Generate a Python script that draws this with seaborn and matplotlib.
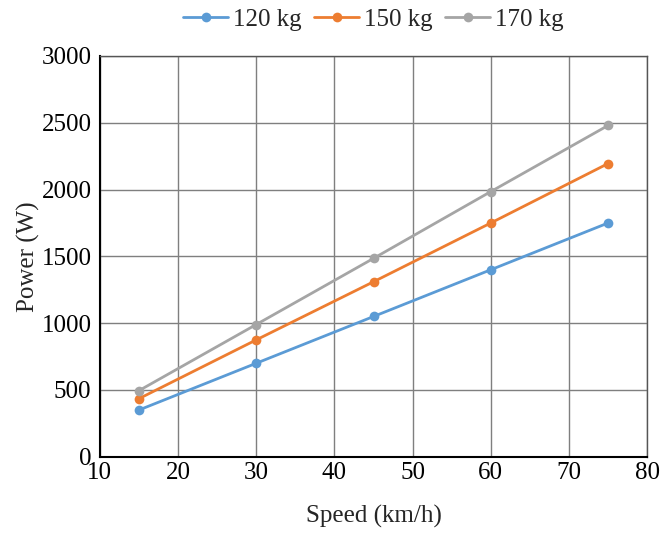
import pandas as pd
import seaborn as sns
import matplotlib.pyplot as plt

# Data
speed = [15, 30, 45, 60, 75]
power_120 = [350, 700, 1050, 1400, 1750]
power_150 = [435, 875, 1310, 1750, 2195]
power_170 = [495, 990, 1485, 1985, 2480]
loads = ["120 kg", "150 kg", "170 kg"]

df = pd.DataFrame({
    "Speed": speed * 3,
    "Power": power_120 + power_150 + power_170,
    "Load": [loads[0]] * 5 + [loads[1]] * 5 + [loads[2]] * 5,
})

sns.set_style("white")
plt.rcParams['font.family'] = ['Liberation Serif', 'DejaVu Serif']

fig = plt.figure(figsize=(6.7, 5.33), dpi=100)
ax = fig.add_axes([0.149, 0.143, 0.817, 0.752])

palette = ["#5B9BD5", "#ED7D31", "#A5A5A5"]
sns.lineplot(data=df, x="Speed", y="Power", hue="Load", palette=palette,
             marker="o", markersize=7, markeredgewidth=0, linewidth=2, ax=ax)

ax.set_xlim(10, 80)
ax.set_ylim(0, 3000)
ax.set_xticks(range(10, 81, 10))
ax.set_yticks(range(0, 3001, 500))
ax.grid(True, color="#7f7f7f", linewidth=1)
ax.set_axisbelow(True)
for side in ["left", "bottom"]:
    ax.spines[side].set_color("black")
    ax.spines[side].set_linewidth(1.5)
for side in ["top", "right"]:
    ax.spines[side].set_color("#555555")
    ax.spines[side].set_linewidth(1)
ax.tick_params(axis="both", labelsize=18, length=0, colors="black")
ax.tick_params(axis="x", pad=4)
ax.tick_params(axis="y", pad=6)

ax.set_xlabel("Speed (km/h)", fontsize=18, labelpad=15)
ax.set_ylabel("Power (W)", fontsize=18, labelpad=1)

ax.legend(loc="lower center", bbox_to_anchor=(0.5, 1.0), ncol=3, frameon=False,
          fontsize=18, handlelength=1.8, columnspacing=0.5, handletextpad=0.2,
          borderaxespad=0.6)

plt.savefig("out.png", dpi=100)
